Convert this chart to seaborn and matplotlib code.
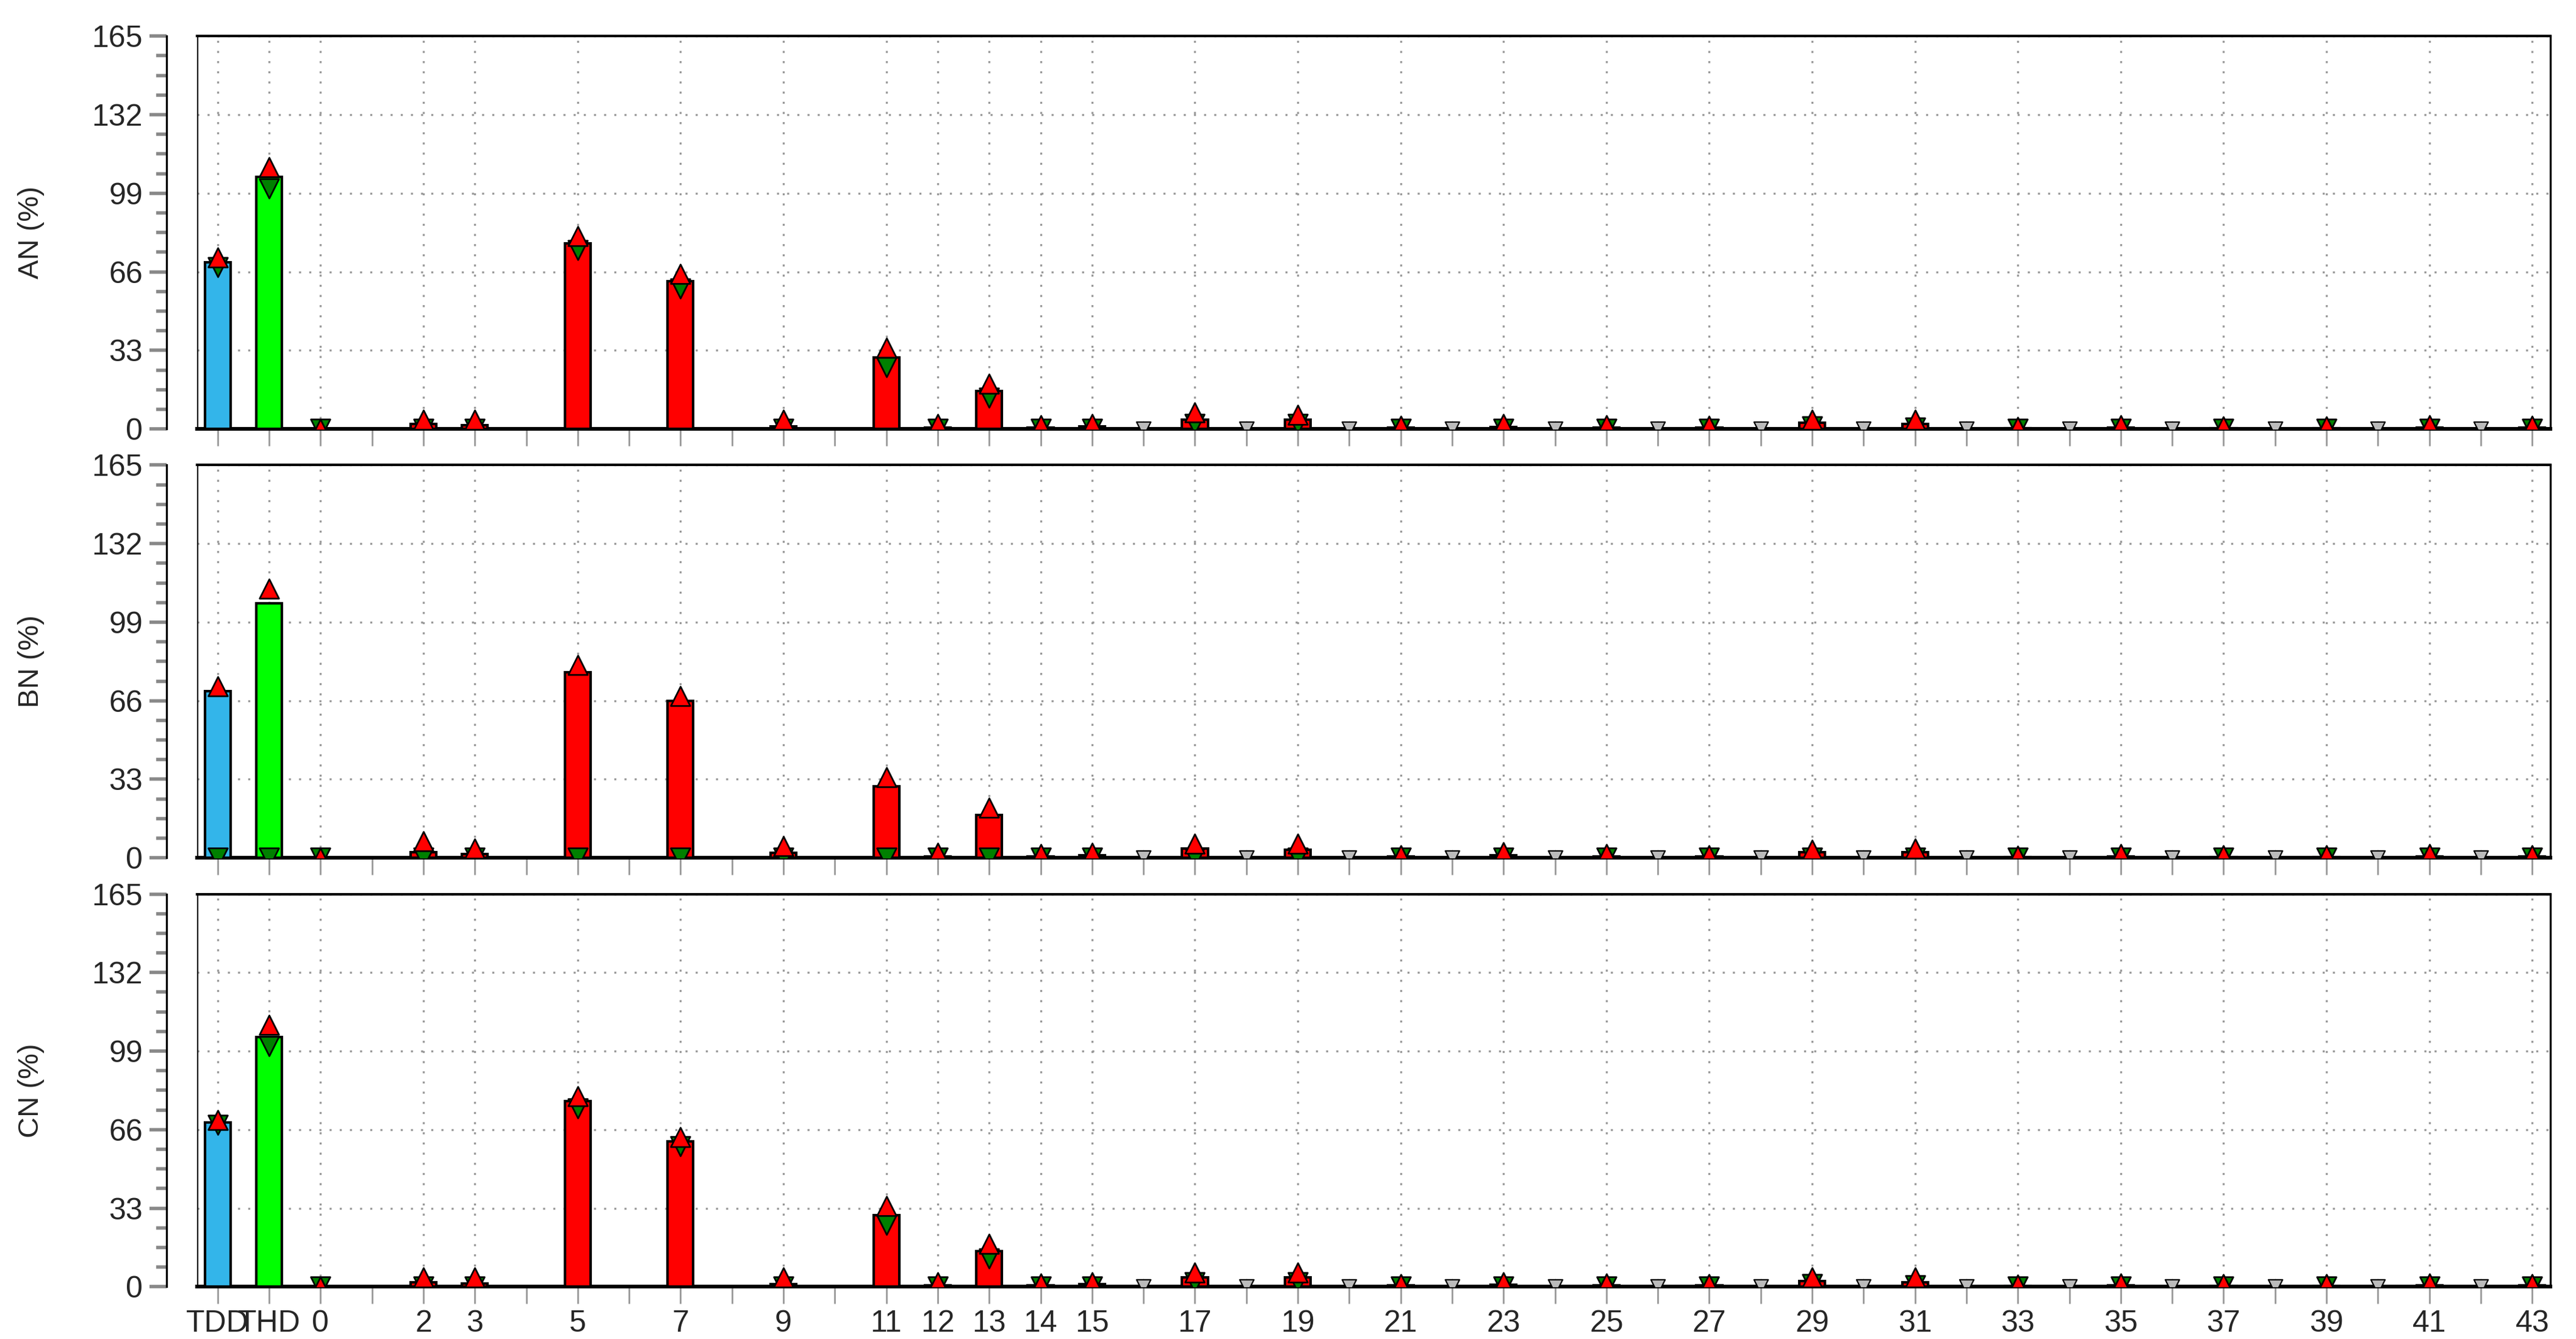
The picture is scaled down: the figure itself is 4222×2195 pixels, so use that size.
import matplotlib
matplotlib.use("Agg")
import matplotlib.pyplot as plt
import seaborn as sns
import pandas as pd
import numpy as np

sns.set_style("white")
plt.rcParams['font.family'] = ['Liberation Sans', 'DejaVu Sans']

# categories: TDD, THD, harmonic 0, then harmonics
cat_labels = ["TDD", "THD", "0", "2", "3", "5", "7", "9", "11", "12", "13", "14", "15",
              "17", "19", "21", "23", "25", "27", "29", "31", "33", "35", "37", "39", "41", "43"]
cat_pos = [-2, -1, 0, 2, 3, 5, 7, 9, 11, 12, 13, 14, 15,
           17, 19, 21, 23, 25, 27, 29, 31, 33, 35, 37, 39, 41, 43]
cat_kind = ["TDD", "THD"] + ["H"] * 25
zero_pos = [16, 18, 20, 22, 24, 26, 28, 30, 32, 34, 36, 38, 40, 42]

an_val = [70, 106, 0, 2.0, 1.5, 78, 62, 1.0, 30, 0.6, 16, 0.5, 1.0, 4.0, 4.0, 0.6, 0.8, 0.5, 0.6, 2.5, 2.0, 0.3, 0.6, 0.4, 0.4, 0.6, 0.5]
an_max = [72, 110, 0, 4.0, 4.0, 81, 65, 4.0, 34, 2.0, 19, 1.5, 2.0, 7.0, 6.0, 1.2, 2.0, 1.5, 1.2, 4.0, 4.0, 0.8, 1.5, 1.0, 1.0, 1.5, 1.2]
an_min = [68, 101, 0, 0.0, 0.0, 75, 59, 0.0, 26, 0.0, 13, 0.0, 0.0, 2.0, 2.0, 0.0, 0.0, 0.0, 0.0, 1.0, 0.5, 0.0, 0.0, 0.0, 0.0, 0.0, 0.0]

bn_val = [70, 107, 0, 2.5, 1.5, 78, 66, 2.0, 30, 0.6, 18, 0.5, 1.0, 4.0, 3.5, 0.6, 1.0, 0.5, 0.5, 2.5, 2.5, 0.3, 0.6, 0.4, 0.4, 0.6, 0.5]
bn_max = [72, 113, 0, 7.0, 4.0, 81, 68, 5.0, 34, 2.0, 21, 1.5, 2.0, 6.0, 6.0, 1.2, 2.5, 1.5, 1.2, 3.5, 4.0, 0.8, 1.5, 1.0, 1.0, 1.5, 1.2]
bn_min = [0] * 27

cn_val = [69, 105, 0, 2.0, 1.5, 78, 61, 1.0, 30, 0.6, 15, 0.5, 1.0, 4.0, 4.0, 0.6, 0.8, 0.5, 0.6, 2.5, 2.0, 0.3, 0.6, 0.4, 0.4, 0.6, 0.5]
cn_max = [70, 110, 0, 4.0, 4.0, 80, 63, 4.0, 34, 2.0, 18, 1.5, 2.0, 6.0, 6.0, 1.2, 2.0, 1.5, 1.2, 4.0, 4.0, 0.8, 1.5, 1.0, 1.0, 1.5, 1.2]
cn_min = [68, 101, 0, 0.0, 0.0, 75, 59, 0.0, 26, 0.0, 12, 0.0, 0.0, 2.0, 2.0, 0.0, 0.0, 0.0, 0.0, 1.0, 0.5, 0.0, 0.0, 0.0, 0.0, 0.0, 0.0]

panels = [("AN (%)", an_val, an_max, an_min),
          ("BN (%)", bn_val, bn_max, bn_min),
          ("CN (%)", cn_val, cn_max, cn_min)]
palette = {"TDD": "#33b5ea", "THD": "#00ff00", "H": "#ff0000"}

fig, axes = plt.subplots(3, 1, figsize=(21.11, 10.975), dpi=200)
fig.subplots_adjust(left=0.0765, right=0.99, top=0.973, bottom=0.039, hspace=0.092)

for i, (ax, (lab, val, mx, mn)) in enumerate(zip(axes, panels)):
    df = pd.DataFrame({"pos": cat_pos, "val": val, "max": mx, "min": mn, "kind": cat_kind})
    sns.barplot(data=df, x="pos", y="val", hue="kind", palette=palette, native_scale=True,
                width=0.5, dodge=False, saturation=1, edgecolor="black", linewidth=1.5,
                legend=False, ax=ax, zorder=3)
    sns.scatterplot(data=df, x="pos", y="min", marker="v", color="green", edgecolor="black",
                    linewidth=1.0, s=130, ax=ax, zorder=5, legend=False)
    sns.scatterplot(data=df, x="pos", y="max", marker="^", color="red", edgecolor="black",
                    linewidth=1.0, s=130, ax=ax, zorder=5, legend=False)
    zdf = pd.DataFrame({"pos": zero_pos, "v": [0] * len(zero_pos)})
    sns.scatterplot(data=zdf, x="pos", y="v", marker="^", facecolor="#bbbbbb", edgecolor="black",
                    linewidth=0.8, s=70, ax=ax, zorder=5, legend=False)
    sns.scatterplot(data=zdf, x="pos", y="v", marker="v", facecolor="#bbbbbb", edgecolor="black",
                    linewidth=0.8, s=70, ax=ax, zorder=5, legend=False)

    ax.set_xlim(-2.4, 43.35)
    ax.set_ylim(0, 165)
    ax.set_yticks(np.arange(0, 166, 33))
    ax.set_yticks(np.arange(0, 166, 8.25), minor=True)
    ax.set_xticks(cat_pos)
    ax.set_xticks(np.arange(-2, 44, 1), minor=True)
    ax.grid(True, which="major", color="#999999", linestyle=(0, (1, 4)), linewidth=1.2)
    ax.set_axisbelow(True)
    for s in ax.spines.values():
        s.set_visible(True)
        s.set_color("black")
        s.set_linewidth(1.2)
    ax.spines["bottom"].set_linewidth(2.2)
    ax.spines["top"].set_linewidth(1.5)
    ax.spines["left"].set_position(("outward", 18))
    ax.axvline(-2.4, color="black", linewidth=1.5, zorder=6)
    ax.tick_params(axis="y", which="major", left=True, length=10, width=2, color="#888888",
                   labelsize=18, pad=4)
    ax.tick_params(axis="y", which="minor", left=True, length=6, width=2, color="#888888")
    ax.tick_params(axis="x", which="both", bottom=True, direction="out", length=10,
                   width=1, color="#999999")
    ax.set_ylabel(lab, fontsize=17, labelpad=28)
    if i < 2:
        ax.set_xticklabels([])
    else:
        ax.set_xticklabels(cat_labels, fontsize=18)
    ax.set_xlabel("")

fig.savefig("out.png", dpi=200)
